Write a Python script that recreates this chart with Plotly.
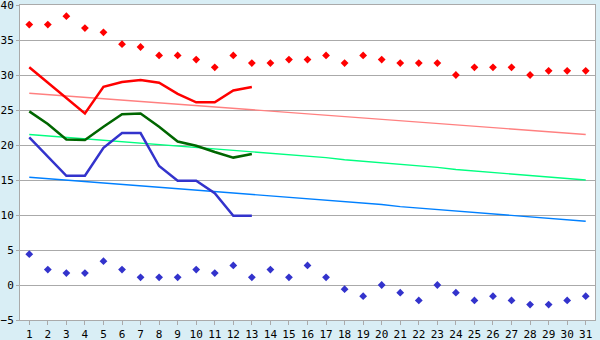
import plotly.graph_objects as go

days = list(range(1, 32))

rec_max = [37.2, 37.2, 38.4, 36.7, 36.1, 34.4, 34.0, 32.8, 32.8, 32.2,
           31.1, 32.8, 31.7, 31.7, 32.2, 32.2, 32.8, 31.7, 32.8, 32.2,
           31.7, 31.7, 31.7, 30.0, 31.1, 31.1, 31.1, 30.0, 30.6, 30.6, 30.6]
rec_min = [4.4, 2.2, 1.7, 1.7, 3.4, 2.2, 1.1, 1.1, 1.1, 2.2,
           1.7, 2.8, 1.1, 2.2, 1.1, 2.8, 1.1, -0.6, -1.6, 0.0,
           -1.1, -2.2, 0.0, -1.1, -2.2, -1.6, -2.2, -2.8, -2.8, -2.2, -1.6]

cur_days = list(range(1, 14))
cur_max = [31.1, 28.9, 26.7, 24.5, 28.3, 29.0, 29.3, 28.9, 27.3, 26.1, 26.1, 27.8, 28.3]
cur_mean = [24.8, 23.0, 20.8, 20.7, 22.6, 24.4, 24.5, 22.6, 20.5, 19.9, 19.0, 18.2, 18.7]
cur_min = [21.1, 18.4, 15.6, 15.6, 19.6, 21.7, 21.7, 17.0, 14.9, 14.9, 13.1, 9.9, 9.9]

norm_max = [27.4, 27.2, 27.0, 26.8, 26.6, 26.4, 26.2, 26.0, 25.8, 25.7,
            25.5, 25.3, 25.1, 24.9, 24.7, 24.5, 24.3, 24.1, 23.9, 23.7,
            23.5, 23.3, 23.1, 22.9, 22.7, 22.5, 22.3, 22.1, 21.9, 21.7, 21.5]
norm_mean = [21.5, 21.3, 21.1, 20.9, 20.7, 20.5, 20.3, 20.1, 19.9, 19.7,
             19.5, 19.3, 19.0, 18.8, 18.6, 18.4, 18.2, 17.9, 17.7, 17.5,
             17.2, 17.0, 16.8, 16.5, 16.3, 16.1, 15.8, 15.6, 15.4, 15.2, 15.0]
norm_min = [15.4, 15.2, 15.0, 14.8, 14.6, 14.4, 14.2, 14.0, 13.8, 13.5,
            13.3, 13.1, 12.9, 12.7, 12.5, 12.3, 12.1, 11.9, 11.7, 11.5,
            11.2, 11.0, 10.8, 10.6, 10.4, 10.2, 10.0, 9.8, 9.5, 9.3, 9.1]

fig = go.Figure()

fig.add_trace(go.Scatter(x=days, y=norm_max, mode="lines",
                         line=dict(color="#FF8080", width=1.4)))
fig.add_trace(go.Scatter(x=days, y=norm_mean, mode="lines",
                         line=dict(color="#00FF80", width=1.4)))
fig.add_trace(go.Scatter(x=days, y=norm_min, mode="lines",
                         line=dict(color="#0080FF", width=1.4)))

fig.add_trace(go.Scatter(x=cur_days, y=cur_max, mode="lines",
                         line=dict(color="#FF0000", width=2.5)))
fig.add_trace(go.Scatter(x=cur_days, y=cur_mean, mode="lines",
                         line=dict(color="#006600", width=2.5)))
fig.add_trace(go.Scatter(x=cur_days, y=cur_min, mode="lines",
                         line=dict(color="#3333CC", width=2.5)))

fig.add_trace(go.Scatter(x=days, y=rec_max, mode="markers",
                         marker=dict(symbol="diamond", size=6, color="#FF0000",
                                     line=dict(width=0))))
fig.add_trace(go.Scatter(x=days, y=rec_min, mode="markers",
                         marker=dict(symbol="diamond", size=6, color="#3333CC",
                                     line=dict(width=0))))

fig.update_layout(
    width=600, height=340,
    margin=dict(l=20, r=5, t=5, b=20),
    paper_bgcolor="#D9EEF5",
    plot_bgcolor="#FFFFFF",
    showlegend=False,
    font=dict(family="DejaVu Sans Mono", size=11, color="#000000"),
    xaxis=dict(
        range=[0.5, 31.5], tickmode="array", tickvals=days,
        ticktext=[str(d) for d in days],
        showgrid=False, zeroline=False, automargin=False,
        showline=True, linecolor="#AAAAAA", linewidth=1, mirror=True,
        ticks="outside", ticklen=4, tickcolor="#AAAAAA",
        ticklabeloverflow="allow",
    ),
    yaxis=dict(
        range=[-5, 40], tickmode="linear", tick0=-5, dtick=5,
        showgrid=True, gridcolor="#AAAAAA", gridwidth=1,
        zeroline=False, automargin=False,
        showline=True, linecolor="#AAAAAA", linewidth=1, mirror=True,
        ticks="outside", ticklen=3, tickcolor="#AAAAAA",
        ticklabeloverflow="allow",
    ),
)

fig.write_html("out.html")
